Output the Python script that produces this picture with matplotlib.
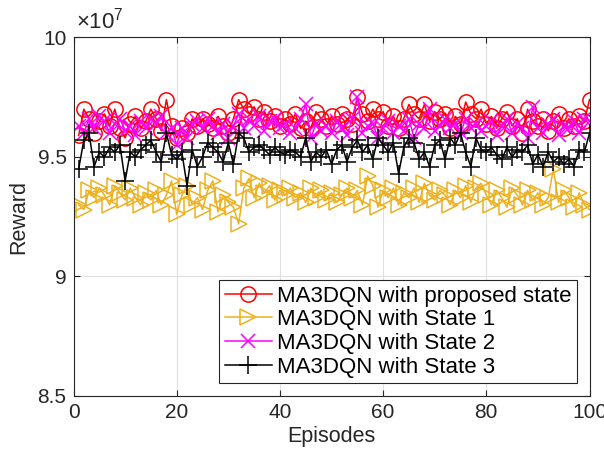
import numpy as np
import matplotlib
matplotlib.use('Agg')
import matplotlib.pyplot as plt

plt.rcParams['font.family'] = ['Liberation Sans', 'DejaVu Sans']
plt.rcParams['mathtext.fontset'] = 'custom'
plt.rcParams['mathtext.rm'] = 'Liberation Sans'
plt.rcParams['mathtext.it'] = 'Liberation Sans'

episodes = np.arange(1, 101)

# reward per episode, in units of 1e7
proposed = [9.59, 9.70, 9.66, 9.60, 9.65, 9.68, 9.63, 9.70, 9.62, 9.58,
            9.64, 9.67, 9.62, 9.65, 9.70, 9.66, 9.61, 9.74, 9.63, 9.58,
            9.62, 9.60, 9.66, 9.63, 9.66, 9.64, 9.62, 9.67, 9.63, 9.60,
            9.66, 9.74, 9.70, 9.68, 9.71, 9.66, 9.69, 9.65, 9.67, 9.63,
            9.66, 9.64, 9.68, 9.62, 9.65, 9.62, 9.69, 9.66, 9.63, 9.67,
            9.64, 9.68, 9.66, 9.64, 9.75, 9.68, 9.65, 9.70, 9.66, 9.69,
            9.63, 9.67, 9.62, 9.66, 9.72, 9.68, 9.66, 9.72, 9.65, 9.69,
            9.66, 9.68, 9.62, 9.67, 9.64, 9.73, 9.68, 9.66, 9.70, 9.64,
            9.67, 9.62, 9.66, 9.69, 9.63, 9.66, 9.60, 9.70, 9.65, 9.63,
            9.66, 9.61, 9.65, 9.68, 9.62, 9.66, 9.63, 9.67, 9.65, 9.74]

state1 = [9.30, 9.28, 9.36, 9.33, 9.37, 9.34, 9.30, 9.38, 9.35, 9.32,
          9.37, 9.33, 9.30, 9.35, 9.32, 9.36, 9.30, 9.34, 9.40, 9.26,
          9.34, 9.38, 9.30, 9.33, 9.28, 9.36, 9.40, 9.27, 9.34, 9.31,
          9.29, 9.22, 9.37, 9.41, 9.33, 9.39, 9.35, 9.38, 9.32, 9.36,
          9.34, 9.37, 9.33, 9.35, 9.31, 9.37, 9.33, 9.36, 9.32, 9.35,
          9.31, 9.34, 9.37, 9.33, 9.36, 9.30, 9.42, 9.38, 9.29, 9.36,
          9.33, 9.37, 9.30, 9.35, 9.33, 9.37, 9.31, 9.39, 9.34, 9.32,
          9.36, 9.34, 9.30, 9.36, 9.33, 9.38, 9.31, 9.37, 9.39, 9.34,
          9.30, 9.36, 9.33, 9.29, 9.37, 9.34, 9.30, 9.36, 9.32, 9.35,
          9.30, 9.33, 9.45, 9.31, 9.36, 9.33, 9.29, 9.35, 9.30, 9.28]

state2 = [9.63, 9.60, 9.66, 9.62, 9.67, 9.65, 9.60, 9.64, 9.66, 9.61,
          9.63, 9.59, 9.65, 9.62, 9.66, 9.64, 9.67, 9.60, 9.62, 9.55,
          9.62, 9.58, 9.64, 9.65, 9.62, 9.66, 9.63, 9.60, 9.64, 9.58,
          9.63, 9.68, 9.62, 9.66, 9.63, 9.67, 9.61, 9.65, 9.66, 9.62,
          9.64, 9.60, 9.62, 9.66, 9.72, 9.58, 9.64, 9.61, 9.63, 9.60,
          9.65, 9.62, 9.59, 9.66, 9.75, 9.60, 9.63, 9.64, 9.58, 9.62,
          9.65, 9.60, 9.63, 9.61, 9.66, 9.58, 9.64, 9.62, 9.70, 9.61,
          9.63, 9.66, 9.62, 9.64, 9.60, 9.66, 9.62, 9.64, 9.61, 9.63,
          9.65, 9.59, 9.63, 9.66, 9.60, 9.64, 9.62, 9.58, 9.71, 9.62,
          9.60, 9.64, 9.66, 9.59, 9.63, 9.62, 9.65, 9.60, 9.66, 9.65]

state3 = [9.45, 9.57, 9.60, 9.46, 9.52, 9.50, 9.54, 9.52, 9.55, 9.40,
          9.52, 9.50, 9.53, 9.55, 9.57, 9.52, 9.48, 9.60, 9.51, 9.49,
          9.52, 9.38, 9.53, 9.46, 9.50, 9.56, 9.54, 9.52, 9.48, 9.56,
          9.47, 9.60, 9.58, 9.52, 9.54, 9.55, 9.53, 9.51, 9.54, 9.52,
          9.51, 9.53, 9.52, 9.50, 9.58, 9.48, 9.52, 9.50, 9.53, 9.47,
          9.53, 9.55, 9.48, 9.54, 9.57, 9.52, 9.55, 9.49, 9.58, 9.55,
          9.52, 9.56, 9.43, 9.54, 9.58, 9.56, 9.49, 9.52, 9.46, 9.55,
          9.57, 9.49, 9.58, 9.55, 9.60, 9.52, 9.46, 9.58, 9.53, 9.52,
          9.54, 9.51, 9.49, 9.54, 9.50, 9.53, 9.52, 9.55, 9.47, 9.51,
          9.46, 9.52, 9.48, 9.50, 9.47, 9.49, 9.46, 9.53, 9.52, 9.60]

fig = plt.figure(figsize=(6.04, 4.57), dpi=100)
ax = fig.add_axes([0.1217, 0.1335, 0.8543, 0.7845])

ax.plot(episodes, proposed, '-o', color='red', lw=1.1, ms=11, mfc='none',
        mew=1.1, label='MA3DQN with proposed state')
ax.plot(episodes, state1, '->', color='#EDB120', lw=1.1, ms=11, mfc='none',
        mew=1.1, label='MA3DQN with State 1')
ax.plot(episodes, state2, '-x', color='magenta', lw=1.1, ms=10,
        mew=1.1, label='MA3DQN with State 2')
ax.plot(episodes, state3, '-+', color='black', lw=1.1, ms=13,
        mew=1.1, label='MA3DQN with State 3')

ax.set_xlim(0, 100)
ax.set_ylim(8.5, 10)
ax.set_xticks([0, 20, 40, 60, 80, 100])
ax.set_yticks([8.5, 9, 9.5, 10])
ax.set_yticklabels(['8.5', '9', '9.5', '10'])
ax.grid(True, color='#e0e0e0', lw=0.8)
ax.set_axisbelow(True)
ax.tick_params(direction='in', labelsize=15, colors='#262626',
               top=True, right=True, length=4, pad=5)
for s in ax.spines.values():
    s.set_color('#262626')
    s.set_linewidth(0.8)

ax.set_xlabel('Episodes', fontsize=15.5, color='#262626', labelpad=3)
ax.set_ylabel('Reward', fontsize=15.5, color='#262626', labelpad=6)
ax.text(0.005, 1.01, r'$\times 10^{7}$', transform=ax.transAxes,
        fontsize=16, color='#262626', va='bottom', ha='left')

leg = ax.legend(loc='lower right', bbox_to_anchor=(0.976, 0.036),
                borderaxespad=0, fontsize=16, fancybox=False,
                framealpha=1, edgecolor='#262626', handlelength=2.1,
                handletextpad=0.25, labelspacing=0.12, borderpad=0.25)
leg.get_frame().set_linewidth(0.8)

fig.savefig('out.png', dpi=100)
